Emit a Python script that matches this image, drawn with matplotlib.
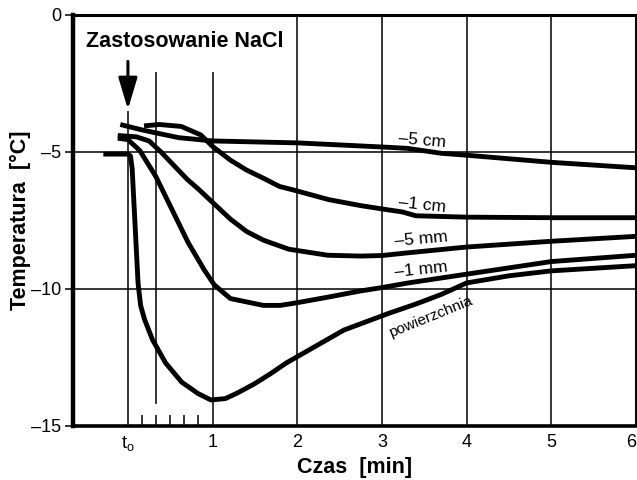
import matplotlib
matplotlib.use("Agg")
import matplotlib.pyplot as plt

plt.rcParams['font.family'] = ['Liberation Sans', 'DejaVu Sans']
plt.rcParams['mathtext.default'] = 'regular'

# ---- data (time in min after t_o, temperature in °C) ----
x_5cm = [-0.09, 0.17, 0.4, 0.6, 1.0, 2.0, 3.0, 3.3, 3.7, 4.0, 4.5, 5.0, 6.0]
y_5cm = [-4.0, -4.2, -4.35, -4.48, -4.6, -4.67, -4.82, -4.87, -5.05, -5.12, -5.25, -5.38, -5.58]

x_1cm = [0.19, 0.37, 0.63, 0.86, 1.0, 1.21, 1.4, 1.6, 1.79, 1.98, 2.37, 2.75, 3.0, 3.24, 3.4, 4.0, 5.0, 6.0]
y_1cm = [-4.05, -4.0, -4.07, -4.38, -4.8, -5.3, -5.66, -5.96, -6.26, -6.41, -6.74, -6.96, -7.08, -7.19, -7.33, -7.38, -7.4, -7.4]

x_5mm = [-0.12, 0.1, 0.25, 0.39, 0.56, 0.7, 0.83, 1.02, 1.21, 1.4, 1.6, 1.9, 2.36, 2.75, 3.0, 3.31, 4.0, 5.0, 6.0]
y_5mm = [-4.4, -4.45, -4.6, -5.0, -5.55, -6.0, -6.35, -6.9, -7.45, -7.9, -8.22, -8.55, -8.77, -8.8, -8.78, -8.68, -8.47, -8.26, -8.08]

x_1mm = [-0.12, 0.0, 0.14, 0.33, 0.52, 0.71, 0.9, 1.02, 1.21, 1.6, 1.8, 2.0, 2.36, 2.75, 3.0, 3.31, 4.0, 5.0, 6.0]
y_1mm = [-4.5, -4.55, -4.95, -5.9, -7.1, -8.3, -9.3, -9.85, -10.35, -10.6, -10.6, -10.5, -10.3, -10.07, -9.95, -9.78, -9.46, -9.0, -8.77]

x_surf = [-0.29, 0.0, 0.03, 0.05, 0.06, 0.08, 0.1, 0.12, 0.15, 0.195, 0.29, 0.445, 0.635, 0.83, 0.98,
          1.15, 1.29, 1.5, 1.68, 1.87, 2.55, 3.07, 3.4, 3.7, 4.0, 4.5, 5.0, 6.0]
y_surf = [-5.08, -5.08, -5.15, -5.6, -6.2, -7.4, -8.6, -9.8, -10.6, -11.1, -11.85, -12.7, -13.4, -13.82, -14.05,
          -14.0, -13.8, -13.45, -13.1, -12.7, -11.5, -10.9, -10.55, -10.2, -9.78, -9.52, -9.34, -9.15]

x_ticks = [0, 1, 2, 3, 4, 5, 6]
x_ticklabels = [r'$\mathregular{t_o}$', '1', '2', '3', '4', '5', '6']
y_ticks = [0, -5, -10, -15]
y_ticklabels = ['0', '\u20135', '\u201310', '\u201315']
minor_ticks = [1/6, 2/6, 3/6, 4/6, 5/6]

curve_labels = ['\u20135 cm', '\u20131 cm', '\u20135 mm', '\u20131 mm', 'powierzchnia']

# ---- figure ----
fig = plt.figure(figsize=(6.37, 4.8), dpi=100)
ax = fig.add_axes([0.114, 0.1125, 0.8845, 0.8565])
ax.set_xlim(-0.653, 6.0)
ax.set_ylim(-15, 0)

grid_kw = dict(color='black', lw=1.1, zorder=1)
ax.hlines([-5, -10], -0.653, 6.0, **grid_kw)
ax.vlines([2, 3, 4, 5], -15, 0, **grid_kw)
ax.vlines([1], -15, -2.1, **grid_kw)
ax.vlines([1/3], -14.2, -2.1, **grid_kw)
ax.vlines([0], -15, -3.5, **grid_kw)

line_kw = dict(color='black', lw=3.5, solid_capstyle='butt', solid_joinstyle='round', zorder=3)
ax.plot(x_5cm, y_5cm, **line_kw)
ax.plot(x_1cm, y_1cm, **line_kw)
ax.plot(x_5mm, y_5mm, **line_kw)
ax.plot(x_1mm, y_1mm, **line_kw)
ax.plot(x_surf, y_surf, **line_kw)

# arrow marking NaCl application
ax.annotate('', xy=(0, -3.45), xytext=(0, -1.7),
            arrowprops=dict(arrowstyle='-|>,head_length=0.97,head_width=0.29',
                            lw=2.2, color='black', mutation_scale=20,
                            shrinkA=0, shrinkB=0))
ax.text(-0.49, -0.98, 'Zastosowanie NaCl', fontsize=15.5, fontweight='bold',
        ha='left', va='center')

lab_kw = dict(fontsize=12.5, ha='center', va='center', zorder=4)
ax.text(3.47, -4.6, curve_labels[0], rotation=-5, **lab_kw)
ax.text(3.48, -6.94, curve_labels[1], rotation=-6, **lab_kw)
ax.text(3.46, -8.18, curve_labels[2], rotation=5, **lab_kw)
ax.text(3.46, -9.3, curve_labels[3], rotation=6, **lab_kw)
ax.text(3.57, -11.02, curve_labels[4], rotation=22, fontsize=11, ha='center', va='center', zorder=4)

# axes styling
for side, w in [('left', 3.2), ('bottom', 2.6), ('top', 2.2), ('right', 1.4)]:
    ax.spines[side].set_linewidth(w)

ax.set_xticks(x_ticks)
ax.set_xticklabels(x_ticklabels, fontsize=13)
ax.get_xticklabels()[-1].set_horizontalalignment('right')
ax.set_xticks(minor_ticks, minor=True)
ax.tick_params(axis='x', which='major', length=0, pad=6)
ax.tick_params(axis='x', which='minor', direction='in', length=8, width=1.1)
ax.set_yticks(y_ticks)
ax.set_yticklabels(y_ticklabels, fontsize=13)
ax.tick_params(axis='y', which='major', direction='out', length=6, width=1.1, pad=2)

ax.set_xlabel('Czas  [min]', fontsize=15.5, fontweight='bold', labelpad=3)
ax.set_ylabel('Temperatura  [°C]', fontsize=15.5, fontweight='bold', labelpad=0)

fig.savefig('out.png', dpi=100)
